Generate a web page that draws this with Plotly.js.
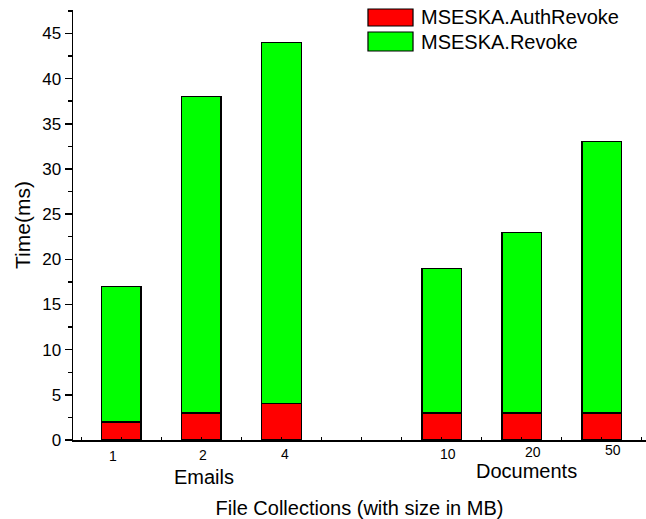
<!DOCTYPE html>
<html>
<head>
<meta charset="utf-8">
<script src="https://cdn.plot.ly/plotly-3.0.1.min.js"></script>
<style>html,body{margin:0;padding:0;background:#fff;}#chart{width:646px;height:519px;}</style>
</head>
<body>
<div id="chart"></div>
<script>
// categories (a blank slot separates the two groups)
const categories = ["1", "2", "4", " ", "10", "20", "50"];
const tickLabels = ["1", "2", "4", "10", "20", "50"];
const groupLabels = ["Emails", "Documents"];
const seriesNames = ["MSESKA.AuthRevoke", "MSESKA.Revoke"];
// stacked values (ms)
const authRevoke = [2, 3, 4, null, 3, 3, 3];
const revoke     = [15, 35, 40, null, 16, 20, 30];
const seriesColors = ["#FF0000", "#00FF00"];

const FONT = "Liberation Sans, Arial, sans-serif";

const traces = [
  {type: "bar", name: seriesNames[0], x: categories, y: authRevoke,
   marker: {color: seriesColors[0], line: {color: "#000", width: 1.2}}, showlegend: false},
  {type: "bar", name: seriesNames[1], x: categories, y: revoke,
   marker: {color: seriesColors[1], line: {color: "#000", width: 1.2}}, showlegend: false},
  // empty helper trace so the minor-tick overlay axis is drawn
  {type: "scatter", x: [], y: [], xaxis: "x2", yaxis: "y", showlegend: false, hoverinfo: "skip"}
];

// tick label placement tweaks (pixels) to mirror the reference
const tickShiftX = [-8, 2, 4, 6, 11, 11];
const tickShiftY = [-16, -15, -14, -14, -12, -10];
const idx = (c) => categories.indexOf(c);

const annotations = [];
tickLabels.forEach((t, i) => {
  annotations.push({text: t, x: idx(t), xref: "x", y: 0, yref: "paper",
    xanchor: "center", yanchor: "middle", xshift: tickShiftX[i], yshift: tickShiftY[i],
    showarrow: false, font: {family: FONT, size: 14, color: "#000"}});
});
annotations.push({text: groupLabels[0], x: idx("2"), xref: "x", y: 0, yref: "paper",
  xanchor: "center", yanchor: "middle", xshift: 3, yshift: -37, showarrow: false,
  font: {family: FONT, size: 20, color: "#000"}});
annotations.push({text: groupLabels[1], x: idx("20"), xref: "x", y: 0, yref: "paper",
  xanchor: "center", yanchor: "middle", xshift: 5, yshift: -31, showarrow: false,
  font: {family: FONT, size: 20, color: "#000"}});
// legend texts
annotations.push({text: seriesNames[0], x: 0.6038, xref: "paper", y: 0.9826, yref: "paper",
  xanchor: "left", yanchor: "middle", showarrow: false, font: {family: FONT, size: 20, color: "#000"}});
annotations.push({text: seriesNames[1], x: 0.6038, xref: "paper", y: 0.9267, yref: "paper",
  xanchor: "left", yanchor: "middle", showarrow: false, font: {family: FONT, size: 20, color: "#000"}});

const shapes = [
  {type: "rect", xref: "paper", yref: "paper", x0: 0.5148, x1: 0.5934, y0: 0.9628, y1: 1.0023,
   fillcolor: seriesColors[0], line: {color: "#000", width: 1.2}},
  {type: "rect", xref: "paper", yref: "paper", x0: 0.5148, x1: 0.5934, y0: 0.9047, y1: 0.9488,
   fillcolor: seriesColors[1], line: {color: "#000", width: 1.2}}
];

const layout = {
  width: 646, height: 519,
  margin: {l: 73, r: 0, t: 10, b: 79},
  paper_bgcolor: "#fff", plot_bgcolor: "#fff",
  barmode: "stack", bargap: 0.51,
  font: {family: FONT, color: "#000"},
  xaxis: {
    type: "category", categoryorder: "array", categoryarray: categories,
    range: [-0.606, 6.556], showticklabels: false, ticks: "", showgrid: false, zeroline: false,
    showline: true, linecolor: "#000", linewidth: 1.5,
    title: {text: "File Collections (with size in MB)", font: {family: FONT, size: 20, color: "#000"}, standoff: 62}
  },
  xaxis2: {
    overlaying: "x", side: "bottom", type: "linear", range: [-0.606, 6.556], tick0: 0, dtick: 0.5,
    ticks: "inside", ticklen: 3, tickwidth: 1, tickcolor: "#000",
    showticklabels: false, showgrid: false, zeroline: false, showline: false
  },
  yaxis: {
    range: [0, 47.6], tick0: 0, dtick: 5, ticks: "outside", ticklen: 7, tickwidth: 1.5, tickcolor: "#000",
    minor: {dtick: 2.5, ticks: "outside", ticklen: 4, tickwidth: 1.5, tickcolor: "#000"},
    showgrid: false, zeroline: false, showline: true, linecolor: "#000", linewidth: 1.5,
    tickfont: {family: FONT, size: 17, color: "#000"},
    title: {text: "Time(ms)", font: {family: FONT, size: 21, color: "#000"}, standoff: 6}
  },
  annotations: annotations,
  shapes: shapes
};

Plotly.newPlot("chart", traces, layout, {displayModeBar: false, staticPlot: true});
</script>
</body>
</html>
